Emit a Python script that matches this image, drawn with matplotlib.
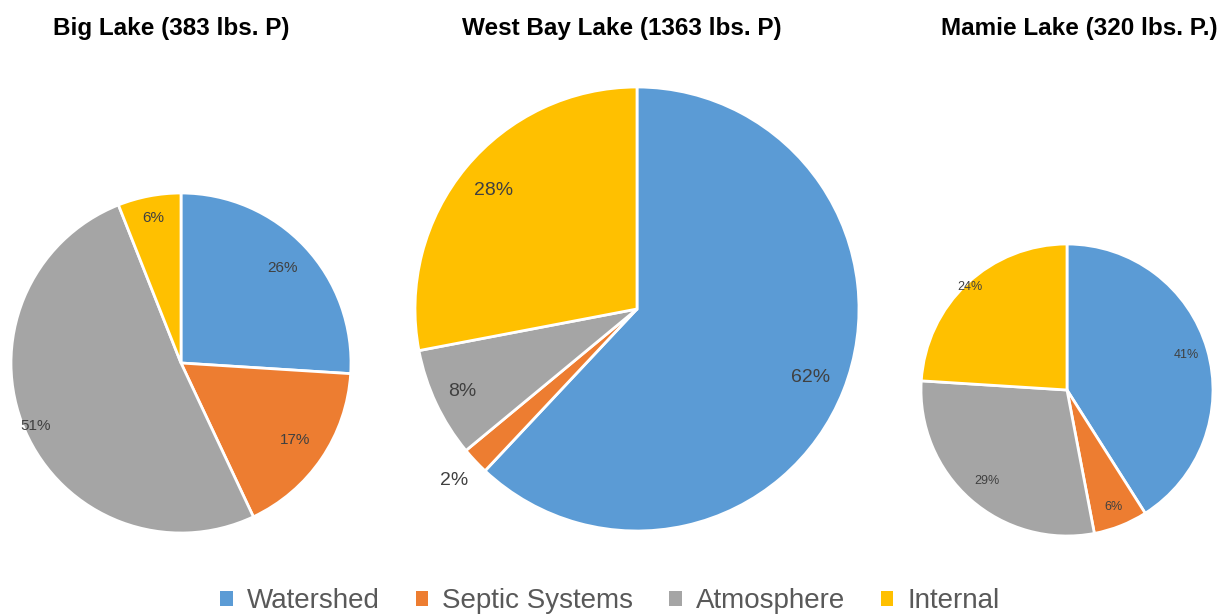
import numpy as np
import matplotlib
matplotlib.use('Agg')
import matplotlib.pyplot as plt

plt.rcParams['font.family'] = ['Liberation Sans', 'DejaVu Sans']

sources = ['Watershed', 'Septic Systems', 'Atmosphere', 'Internal']
colors = ['#5B9BD5', '#ED7D31', '#A5A5A5', '#FFC000']

titles = ['Big Lake (383 lbs. P)', 'West Bay Lake (1363 lbs. P)', 'Mamie Lake (320 lbs. P.)']
big_lake = [26, 17, 51, 6]
west_bay = [62, 2, 8, 28]
mamie = [41, 6, 29, 24]

W, H = 1231, 616
fig = plt.figure(figsize=(W / 100, H / 100), dpi=100)

# pixel layout: centre x, centre y, radius, label distance per wedge, label font size
layout = [
    (181, 363, 170, [0.82, 0.81, 0.93, 0.87], 11),
    (637, 309, 222, [0.84, 1.13, 0.87, 0.84], 14),
    (1067, 390, 146, [0.85, 0.86, 0.83, 0.97], 9),
]
title_pos = [(171, 28), (622, 28), (1079, 28)]

wedges0 = None
for vals, title, (cx, cy, r, dists, fs), (tx, ty) in zip(
        [big_lake, west_bay, mamie], titles, layout, title_pos):
    ax = fig.add_axes([(cx - r) / W, 1 - (cy + r) / H, 2 * r / W, 2 * r / H])
    wedges, _ = ax.pie(vals, colors=colors, startangle=90, counterclock=False,
                       radius=1, wedgeprops=dict(edgecolor='white', linewidth=2))
    for w, v, d in zip(wedges, vals, dists):
        a = np.deg2rad((w.theta1 + w.theta2) / 2)
        ax.text(d * np.cos(a), d * np.sin(a), '%d%%' % v, ha='center', va='center',
                fontsize=fs, color='#404040')
    ax.set_xlim(-1, 1)
    ax.set_ylim(-1, 1)
    ax.set_aspect('equal')
    ax.axis('off')
    fig.text(tx / W, 1 - ty / H, title, ha='center', va='center',
             fontsize=17.5, fontweight='bold', color='black')
    if wedges0 is None:
        wedges0 = wedges

leg = fig.legend(wedges0, sources, loc='center', bbox_to_anchor=(610 / W, 1 - 601 / H),
                 ncol=4, frameon=False, fontsize=20, handlelength=0.45, handleheight=0.45,
                 handletextpad=0.5, columnspacing=1.3, borderpad=0)
for t in leg.get_texts():
    t.set_color('#595959')
for h in leg.legend_handles:
    h.set_edgecolor('none')

fig.savefig('out.png', dpi=100, facecolor='white')
